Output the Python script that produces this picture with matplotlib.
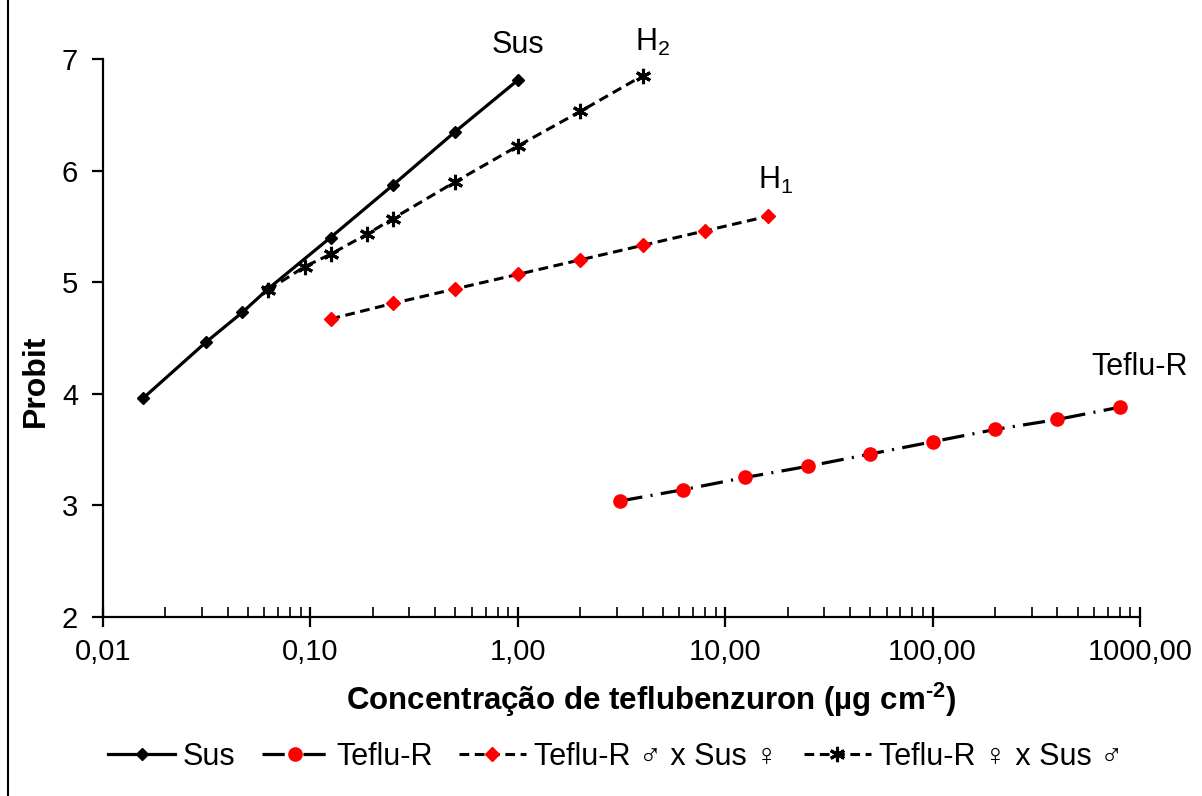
import numpy as np
import matplotlib
matplotlib.use("Agg")
import matplotlib.pyplot as plt
from matplotlib.ticker import FixedLocator, LogLocator, NullFormatter

plt.rcParams['font.family'] = ['Liberation Sans', 'DejaVu Sans']
plt.rcParams['mathtext.fontset'] = 'custom'
plt.rcParams['mathtext.rm'] = 'Liberation Sans'
plt.rcParams['mathtext.bf'] = 'Liberation Sans:bold'
plt.rcParams['axes.unicode_minus'] = False
plt.rcParams['lines.scale_dashes'] = False

# Data (concentration in ug cm-2, probit)
sus_x = [0.0156, 0.03125, 0.047, 0.0625, 0.125, 0.25, 0.5, 1.0]
sus_y = [3.96, 4.46, 4.73, 4.94, 5.40, 5.87, 6.35, 6.81]

teflu_x = [3.125, 6.25, 12.5, 25, 50, 100, 200, 400, 800]
teflu_y = [3.04, 3.14, 3.25, 3.35, 3.46, 3.57, 3.68, 3.77, 3.88]

h1_x = [0.125, 0.25, 0.5, 1, 2, 4, 8, 16]
h1_y = [4.67, 4.81, 4.94, 5.07, 5.20, 5.33, 5.46, 5.59]

h2_x = [0.0625, 0.094, 0.125, 0.1875, 0.25, 0.5, 1, 2, 4]
h2_y = [4.93, 5.14, 5.25, 5.43, 5.57, 5.90, 6.22, 6.53, 6.85]

x_ticks = [0.01, 0.1, 1, 10, 100, 1000]
x_ticklabels = ['0,01', '0,10', '1,00', '10,00', '100,00', '1000,00']
y_ticks = [2, 3, 4, 5, 6, 7]

fig = plt.figure(figsize=(12.02, 7.96), dpi=100)
ax = fig.add_axes([0.0857, 0.2249, 0.8627, 0.7010])

ax.plot(sus_x, sus_y, color='black', lw=2.3, marker='D', ms=6,
        mfc='black', mec='black', label='Sus')
ax.plot(teflu_x, teflu_y, color='black', lw=2.3, dashes=(16, 6, 1.5, 6),
        marker='o', ms=9.5, mfc='red', mec='red', label='Teflu-R')
ax.plot(h1_x, h1_y, color='black', lw=2.2, dashes=(7, 4),
        marker='D', ms=7, mfc='red', mec='red', label='Teflu-R ♂ x Sus ♀')
ax.plot(h2_x, h2_y, color='black', lw=2.2, dashes=(7, 4),
        marker=(6, 2, 0), ms=11, mew=2.2, mec='black', label='Teflu-R ♀ x Sus ♂')

# Curve labels next to the last point of each line
ax.annotate('Sus', (sus_x[-1], sus_y[-1]), xytext=(0, 35), textcoords='offset pixels',
            ha='center', va='center', fontsize=22)
ax.annotate('H$_2$', (h2_x[-1], h2_y[-1]), xytext=(10, 33), textcoords='offset pixels',
            ha='center', va='center', fontsize=22)
ax.annotate('H$_1$', (h1_x[-1], h1_y[-1]), xytext=(8, 36), textcoords='offset pixels',
            ha='center', va='center', fontsize=22)
ax.annotate('Teflu-R', (teflu_x[-1], teflu_y[-1]), xytext=(20, 40), textcoords='offset pixels',
            ha='center', va='center', fontsize=22)

ax.set_xscale('log')
ax.set_xlim(0.01, 1000)
ax.set_ylim(2, 7)
ax.xaxis.set_major_locator(FixedLocator(x_ticks))
ax.set_xticklabels(x_ticklabels)
ax.xaxis.set_minor_locator(LogLocator(base=10, subs=np.arange(2, 10)))
ax.xaxis.set_minor_formatter(NullFormatter())
ax.set_yticks(y_ticks)

ax.spines['top'].set_visible(False)
ax.spines['right'].set_visible(False)
ax.spines['left'].set_linewidth(1.6)
ax.spines['bottom'].set_linewidth(1.6)
ax.tick_params(axis='x', which='major', direction='inout', length=14, width=1.6,
               labelsize=21, pad=8)
ax.tick_params(axis='x', which='minor', direction='in', length=7, width=1.2)
ax.tick_params(axis='y', which='major', direction='out', length=8, width=1.6,
               labelsize=21, pad=10)

ax.set_xlabel('Concentração de teflubenzuron (µg cm$^{\\mathbf{\u20102}}$)',
              fontsize=22.5, fontweight='bold')
ax.xaxis.set_label_coords(0.529, -0.115)
fig.text(0.03, 1 - 381 / 796, 'Probit', rotation=90, fontsize=23,
         fontweight='bold', ha='center', va='center')

ax.legend(loc='center', bbox_to_anchor=(0.512, 1 - 757 / 796), bbox_transform=fig.transFigure,
          ncol=4, frameon=False, fontsize=22, handlelength=2.2, handletextpad=0.25,
          columnspacing=0.85)

# Border of the chart area
fig.add_artist(plt.Line2D([8 / 1202, 8 / 1202], [0, 1], color='black', lw=1.5,
                          transform=fig.transFigure))

fig.savefig('out.png', dpi=100)
